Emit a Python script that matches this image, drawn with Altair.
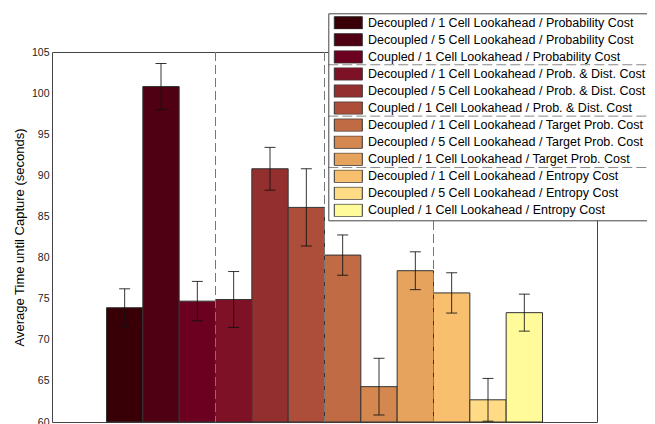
import altair as alt
import pandas as pd

labels = [
    "Decoupled / 1 Cell Lookahead / Probability Cost",
    "Decoupled / 5 Cell Lookahead / Probability Cost",
    "Coupled / 1 Cell Lookahead / Probability Cost",
    "Decoupled / 1 Cell Lookahead / Prob. & Dist. Cost",
    "Decoupled / 5 Cell Lookahead / Prob. & Dist. Cost",
    "Coupled / 1 Cell Lookahead / Prob. & Dist. Cost",
    "Decoupled / 1 Cell Lookahead / Target Prob. Cost",
    "Decoupled / 5 Cell Lookahead / Target Prob. Cost",
    "Coupled / 1 Cell Lookahead / Target Prob. Cost",
    "Decoupled / 1 Cell Lookahead / Entropy Cost",
    "Decoupled / 5 Cell Lookahead / Entropy Cost",
    "Coupled / 1 Cell Lookahead / Entropy Cost",
]
means = [73.9, 100.8, 74.7, 74.9, 90.8, 86.1, 80.3, 64.3, 78.4, 75.7, 62.7, 73.3]
errors = [2.3, 2.8, 2.4, 3.4, 2.6, 4.7, 2.45, 3.45, 2.3, 2.45, 2.6, 2.25]
colors = [
    "#380006", "#4f0012", "#6b0021", "#7e1126", "#93302f", "#ad4e3a",
    "#c06b44", "#d4874f", "#e6a35e", "#f8bf6f", "#fedb84", "#fffb9b",
]
group_bounds = [4.5, 7.5, 10.5]
y_ticks = [60, 65, 70, 75, 80, 85, 90, 95, 100, 105]
separator_after_rows = [3, 6, 9]

FONT = "Liberation Sans"
LEG_X, LEG_Y, LEG_PAD = 276.3, -38.7, 3
ROW_H, ROW_PAD = 13, 4.05
ROW0_TOP, PITCH, GAP = -36.3, 17.12, 4.6
LEG_W, LEG_H = 332, 207.4

df = pd.DataFrame({"label": labels, "mean": means, "err": errors})
df["pos"] = [i + 2 for i in range(len(labels))]
df["x0"] = df["pos"] - 0.5
df["x1"] = df["pos"] + 0.5
df["lo"] = df["mean"] - df["err"]
df["hi"] = df["mean"] + df["err"]
df["base"] = y_ticks[0]

xs = alt.Scale(domain=[0, 15], nice=False, zero=False)
ys = alt.Scale(domain=[y_ticks[0], y_ticks[-1]], nice=False, zero=False)

base = alt.Chart(df)

bars = base.mark_bar(stroke="#333333", strokeWidth=1, opacity=1).encode(
    x=alt.X("x0:Q", scale=xs, axis=None),
    x2="x1",
    y=alt.Y(
        "mean:Q",
        scale=ys,
        axis=alt.Axis(
            values=y_ticks, ticks=False, domain=False, grid=False,
            labelFont=FONT, labelFontSize=10.5, labelColor="#222222", labelPadding=3,
            title="Average Time until Capture (seconds)",
            titleFont=FONT, titleFontSize=13, titleFontWeight="normal",
            titleColor="#000000", titlePadding=5,
        ),
    ),
    y2="base",
    color=alt.Color(
        "label:N",
        scale=alt.Scale(domain=labels, range=colors),
        legend=alt.Legend(
            orient="none", legendX=LEG_X, legendY=LEG_Y, title=None,
            symbolType="M-1,-0.45H1V0.45H-1Z", symbolSize=784,
            symbolStrokeColor="#333333", symbolStrokeWidth=1, symbolOpacity=1,
            symbolOffset=2.5,
            labelFont=FONT, labelFontSize=12.5, labelColor="#000000", labelLimit=0,
            labelOffset=5.2, padding=LEG_PAD, rowPadding=ROW_PAD, clipHeight=ROW_H,
            strokeColor="#444444",
        ),
    ),
)

err_rule = base.mark_rule(color="#111111", strokeWidth=1, opacity=0.85).encode(
    x=alt.X("pos:Q", scale=xs), y=alt.Y("lo:Q", scale=ys), y2="hi"
)
cap_lo = base.mark_tick(orient="horizontal", size=11, thickness=1, color="#111111", opacity=0.85).encode(
    x=alt.X("pos:Q", scale=xs), y=alt.Y("lo:Q", scale=ys)
)
cap_hi = base.mark_tick(orient="horizontal", size=11, thickness=1, color="#111111", opacity=0.85).encode(
    x=alt.X("pos:Q", scale=xs), y=alt.Y("hi:Q", scale=ys)
)

dashes = alt.Chart(pd.DataFrame({"b": group_bounds})).mark_rule(
    color="#777777", strokeWidth=1, strokeDash=[9, 4]
).encode(x=alt.X("b:Q", scale=xs))

one = pd.DataFrame({"k": [0]})
legend_bg = alt.Chart(one).mark_rect(fill="white").encode(
    x=alt.value(LEG_X), x2=alt.value(LEG_X + LEG_W),
    y=alt.value(LEG_Y), y2=alt.value(LEG_Y + LEG_H),
)

seps = []
for n in separator_after_rows:
    yy = ROW0_TOP + n * PITCH - GAP / 2
    seps.append(
        alt.Chart(one).mark_rule(color="#888888", strokeWidth=1, strokeDash=[10, 4]).encode(
            x=alt.value(LEG_X), x2=alt.value(LEG_X + LEG_W), y=alt.value(yy)
        )
    )

chart = alt.layer(bars, err_rule, cap_lo, cap_hi, dashes, legend_bg, *seps).properties(
    width=545, height=370,
    autosize="none",
    padding={"left": 44, "top": 44, "right": 50, "bottom": 10},
    background="white",
).configure_view(stroke="#444444", strokeWidth=1)

chart.save("out.html", embed_options={"renderer": "svg", "actions": False})
